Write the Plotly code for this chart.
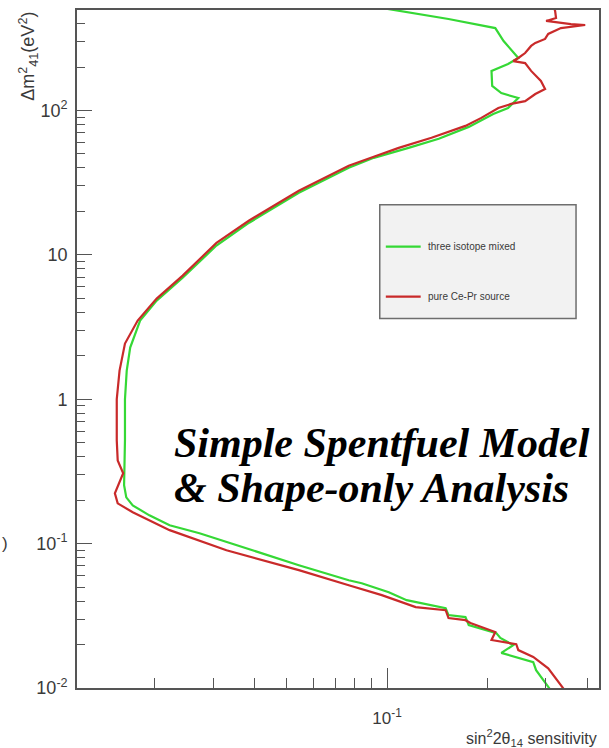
import plotly.graph_objects as go

# Sensitivity contours: sin^2(2 theta_14) reach versus Delta m^2_41 [eV^2]
mixed_label = "three isotope mixed"
mixed_s2t = [0.0894, 0.110, 0.153, 0.2115, 0.224, 0.248, 0.231, 0.206, 0.207, 0.2205,
             0.248, 0.231, 0.2085, 0.176, 0.143, 0.116, 0.0912, 0.0767, 0.0543, 0.0385,
             0.0307, 0.0243, 0.0203, 0.0181, 0.0169, 0.0165, 0.0163, 0.0163, 0.0162, 0.01645,
             0.0172, 0.0193, 0.0222, 0.0273, 0.0367, 0.0543, 0.0767, 0.0839, 0.1012, 0.1145,
             0.150, 0.153, 0.172, 0.176, 0.213, 0.219, 0.2395, 0.2205, 0.275, 0.2805,
             0.307, 0.311]
mixed_dm2 = [528, 488, 430, 372, 303, 231, 210, 188, 148, 132,
             122, 104, 94.6, 77.0, 63.7, 55.1, 47.0, 40.1, 26.9, 16.7,
             11.6, 6.95, 4.82, 3.51, 2.28, 1.58, 1.0, 0.519, 0.254, 0.209,
             0.184, 0.157, 0.134, 0.118, 0.0944, 0.0709, 0.0558, 0.0532, 0.0461, 0.0406,
             0.0357, 0.0320, 0.0310, 0.0273, 0.0240, 0.0222, 0.0198, 0.0175, 0.0151, 0.0133,
             0.0100, 0.00938]

cepr_label = "pure Ce-Pr source"
cepr_s2t = [0.3155, 0.320, 0.322, 0.3006, 0.357, 0.394, 0.333, 0.320, 0.305, 0.2985,
            0.279, 0.271, 0.260, 0.248, 0.2395, 0.260, 0.271, 0.290, 0.2985, 0.279,
            0.260, 0.236, 0.216, 0.192, 0.172, 0.136, 0.1084, 0.0912, 0.0767, 0.0543,
            0.0385, 0.0307, 0.0243, 0.0203, 0.0178, 0.0163, 0.0157, 0.0154, 0.0154, 0.0155,
            0.0161, 0.0152, 0.0155, 0.0172, 0.0222, 0.0329, 0.0543, 0.0767, 0.0964, 0.1219,
            0.150, 0.153, 0.172, 0.178, 0.2115, 0.206, 0.2445, 0.248, 0.275, 0.305,
            0.338, 0.345]
cepr_dm2 = [546, 488, 437, 417, 397, 391, 372, 355, 339, 313,
            294, 280, 250, 231, 220, 213, 188, 160, 141, 130,
            116, 111, 104, 88.9, 78.2, 64.7, 55.1, 47.8, 41.4, 27.8,
            17.3, 12.1, 7.18, 4.98, 3.51, 2.43, 1.58, 1.0, 0.519, 0.377,
            0.307, 0.223, 0.190, 0.165, 0.124, 0.0900, 0.0655, 0.0515, 0.0440, 0.0363,
            0.0346, 0.0305, 0.0295, 0.0282, 0.0244, 0.0215, 0.0201, 0.0183, 0.0164, 0.0137,
            0.0100, 0.00938]

green = "#35d835"
red = "#c92a2a"
axis_col = "#555555"
text_col = "#3a3a3a"

# decade ticks and minor ticks for the log axes
x_major = [0.1]
x_major_text = ["10<sup>-1</sup>"]
x_minor = [0.02, 0.03, 0.04, 0.05, 0.06, 0.07, 0.08, 0.09, 0.2, 0.3, 0.4]
y_major = [0.01, 0.1, 1, 10, 100]
y_major_text = ["10<sup>-2</sup>", "10<sup>-1</sup>", "1", "10", "10<sup>2</sup>"]
y_minor = [m * d for d in (0.01, 0.1, 1, 10) for m in range(2, 10)] + [200, 300, 400, 500]

fig = go.Figure()
fig.add_trace(go.Scatter(x=mixed_s2t, y=mixed_dm2, mode="lines", name=mixed_label,
                         line=dict(color=green, width=2.2), showlegend=False))
fig.add_trace(go.Scatter(x=cepr_s2t, y=cepr_dm2, mode="lines", name=cepr_label,
                         line=dict(color=red, width=2.2), showlegend=False))

fig.update_xaxes(type="log", range=[-1.932, -0.363],
                 tickmode="array", tickvals=x_major, ticktext=x_major_text,
                 ticks="inside", ticklen=20, tickwidth=1.3, tickcolor=axis_col,
                 minor=dict(tickmode="array", tickvals=x_minor, ticks="inside",
                            ticklen=10, tickwidth=1.3, tickcolor=axis_col, showgrid=False),
                 ticklabelstandoff=14,
                 showline=True, linecolor=axis_col, linewidth=1.6, mirror=True,
                 showgrid=False, zeroline=False,
                 tickfont=dict(family="Liberation Sans", size=17, color=text_col))
fig.update_yaxes(type="log", range=[-2, 2.696],
                 tickmode="array", tickvals=y_major, ticktext=y_major_text,
                 ticks="inside", ticklen=15, tickwidth=1.3, tickcolor=axis_col,
                 minor=dict(tickmode="array", tickvals=y_minor, ticks="inside",
                            ticklen=8, tickwidth=1.3, tickcolor=axis_col, showgrid=False),
                 ticklabelstandoff=4,
                 showline=True, linecolor=axis_col, linewidth=1.6, mirror=True,
                 showgrid=False, zeroline=False,
                 tickfont=dict(family="Liberation Sans", size=18, color=text_col))

# legend box
lx0, lx1, ly0, ly1 = 0.580, 0.956, 0.5449, 0.7128
fig.add_shape(type="rect", xref="paper", yref="paper", x0=lx0, x1=lx1, y0=ly0, y1=ly1,
              fillcolor="#f2f2f2", line=dict(color="#6e6e6e", width=1.5), layer="above")
for col, lab, yy in ((green, mixed_label, 0.651), (red, cepr_label, 0.5773)):
    fig.add_shape(type="line", xref="paper", yref="paper", x0=0.5916, x1=0.6584,
                  y0=yy, y1=yy, line=dict(color=col, width=2.2), layer="above")
    fig.add_annotation(xref="paper", yref="paper", x=0.669, y=yy, text=lab,
                       showarrow=False, xanchor="left", yanchor="middle",
                       font=dict(family="Liberation Sans", size=10, color=text_col))

annotations = [
    dict(xref="paper", yref="paper", x=-0.0935, y=1.0, xanchor="center", yanchor="top",
         textangle=-90, text="Δm<sup>2</sup><sub>41</sub>(eV<sup>2</sup>)",
         font=dict(family="Liberation Sans", size=18, color=text_col)),
    dict(xref="paper", yref="paper", x=1.0, y=-0.0736, xanchor="right", yanchor="middle",
         text="sin<sup>2</sup>2θ<sub>14</sub> sensitivity",
         font=dict(family="Liberation Sans", size=16, color=text_col)),
    dict(xref="paper", yref="paper", x=-0.147, y=0.2135, xanchor="left", yanchor="middle",
         text=")", font=dict(family="Liberation Sans", size=17, color=text_col)),
    dict(xref="paper", yref="paper", x=0.1813, y=0.3608, xanchor="left", yanchor="middle",
         text="<b><i>Simple Spentfuel Model</i></b>",
         font=dict(family="Liberation Serif", size=42, color="#000000")),
    dict(xref="paper", yref="paper", x=0.1813, y=0.2946, xanchor="left", yanchor="middle",
         text="<b><i>&amp; Shape-only Analysis</i></b>",
         font=dict(family="Liberation Serif", size=42, color="#000000")),
]
for a in annotations:
    fig.add_annotation(showarrow=False, **a)

fig.update_layout(width=609, height=748, margin=dict(l=77, r=8, t=9, b=60),
                  paper_bgcolor="white", plot_bgcolor="white")

fig.write_html("out.html")
